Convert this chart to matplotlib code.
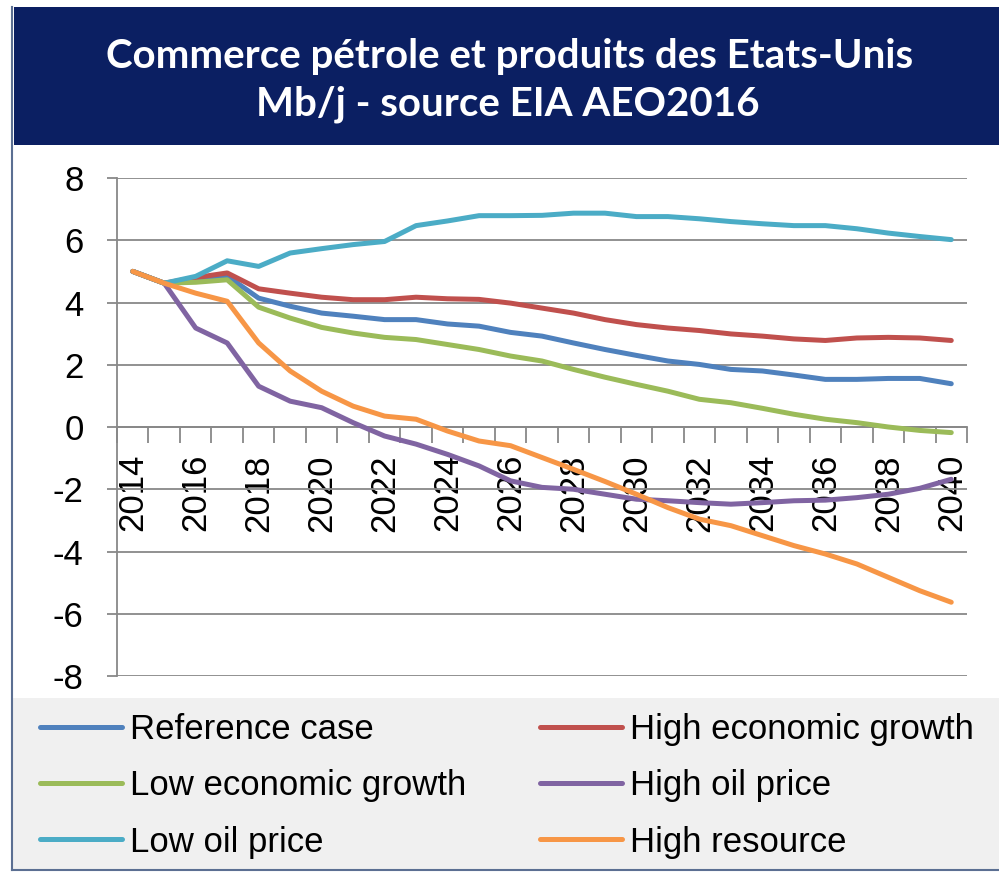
import matplotlib
matplotlib.use('Agg')
import matplotlib.pyplot as plt
from matplotlib.patches import Rectangle
from matplotlib.lines import Line2D
import numpy as np

plt.rcParams['axes.unicode_minus'] = False
plt.rcParams['font.family'] = ['Liberation Sans', 'DejaVu Sans']

years = list(range(2014, 2041))

reference_case = [5.0, 4.62, 4.72, 4.85, 4.14, 3.88, 3.66, 3.56, 3.45, 3.45, 3.31, 3.24, 3.04,
                  2.92, 2.70, 2.49, 2.30, 2.12, 2.01, 1.85, 1.80, 1.67, 1.53, 1.53, 1.56, 1.56, 1.39]
high_econ_growth = [5.0, 4.62, 4.80, 4.95, 4.44, 4.30, 4.17, 4.09, 4.09, 4.17, 4.12, 4.10, 3.98,
                    3.82, 3.66, 3.45, 3.29, 3.18, 3.10, 2.99, 2.92, 2.83, 2.78, 2.86, 2.88, 2.86, 2.78]
low_econ_growth = [5.0, 4.62, 4.65, 4.73, 3.85, 3.50, 3.20, 3.02, 2.88, 2.81, 2.65, 2.49, 2.28,
                   2.12, 1.85, 1.60, 1.37, 1.15, 0.89, 0.78, 0.60, 0.41, 0.25, 0.14, 0.00, -0.11, -0.18]
high_oil_price = [5.0, 4.62, 3.18, 2.70, 1.31, 0.83, 0.62, 0.14, -0.29, -0.55, -0.88, -1.25, -1.73,
                  -1.94, -2.00, -2.16, -2.32, -2.37, -2.43, -2.48, -2.43, -2.37, -2.35, -2.27, -2.16, -1.97, -1.68]
low_oil_price = [5.0, 4.62, 4.84, 5.34, 5.16, 5.59, 5.73, 5.86, 5.96, 6.47, 6.62, 6.79, 6.79,
                 6.80, 6.87, 6.87, 6.76, 6.76, 6.69, 6.60, 6.53, 6.47, 6.47, 6.37, 6.23, 6.12, 6.02]
high_resource = [5.0, 4.62, 4.30, 4.04, 2.70, 1.80, 1.15, 0.67, 0.35, 0.25, -0.13, -0.45, -0.60,
                 -0.98, -1.36, -1.75, -2.16, -2.59, -2.96, -3.17, -3.49, -3.81, -4.08, -4.40, -4.83, -5.26, -5.63]

series = [
    ('Reference case', reference_case, '#4F81BD'),
    ('High economic growth', high_econ_growth, '#C0504D'),
    ('Low economic growth', low_econ_growth, '#9BBB59'),
    ('High oil price', high_oil_price, '#8064A2'),
    ('Low oil price', low_oil_price, '#4BACC6'),
    ('High resource', high_resource, '#F79646'),
]

W, H = 999, 872
fig = plt.figure(figsize=(W / 100, H / 100), dpi=100)

def fx(px):
    return px / W

def fy(py):
    return 1 - py / H

# title band and legend band
fig.patches.append(Rectangle((fx(14), fy(145)), fx(985), 138 / H, transform=fig.transFigure,
                             facecolor='#0b1f62', edgecolor='none', zorder=0))
fig.patches.append(Rectangle((fx(13), fy(869)), fx(986), 171 / H, transform=fig.transFigure,
                             facecolor='#f0f0f0', edgecolor='none', zorder=0))
fig.lines.append(Line2D([fx(12), fx(12)], [fy(7), fy(870)], transform=fig.transFigure,
                        color='#5b6f92', lw=1.5))
fig.lines.append(Line2D([fx(12), fx(999)], [fy(869.5), fy(869.5)], transform=fig.transFigure,
                        color='#5b6f92', lw=1.5))

title_font = dict(ha='center', va='center', color='white', fontsize=29, fontweight='bold',
                  family=['Lato', 'DejaVu Sans'])
fig.text(fx(510), fy(56), 'Commerce pétrole et produits des Etats-Unis', **title_font)
fig.text(fx(508), fy(104), 'Mb/j - source EIA AEO2016', **title_font)

ax = fig.add_axes([fx(117), fy(676), fx(850), 498 / H])
x = np.arange(len(years))
handles = {}
for name, vals, color in series:
    ln, = ax.plot(x, vals, color=color, lw=3.6, label=name, solid_capstyle='round', zorder=3)
    handles[name] = ln

ax.set_xlim(-0.5, len(years) - 0.5)
ax.set_ylim(-8, 8)
ax.set_yticks(range(-8, 9, 2))
ax.set_xticks(x[::2])
ax.set_xticklabels([str(y) for y in years[::2]])
ax.set_xticks(np.arange(-0.5, len(years), 1), minor=True)

grid_col = '#888888'
for s in ['top', 'right']:
    ax.spines[s].set_visible(False)
ax.spines['bottom'].set_position(('data', 0))
ax.spines['bottom'].set_color(grid_col)
ax.spines['bottom'].set_linewidth(1.3)
ax.spines['left'].set_color(grid_col)
ax.spines['left'].set_linewidth(1.3)
ax.yaxis.grid(True, color=grid_col, lw=1.3)
ax.set_axisbelow(True)

ax.tick_params(axis='x', which='major', length=0, pad=19.5, labelsize=25, labelrotation=90)
ax.tick_params(axis='x', which='minor', length=11.5, width=1.3, color=grid_col, direction='out')
ax.tick_params(axis='y', length=7, width=1.3, color=grid_col, pad=17, labelsize=25)

order = ['Reference case', 'Low economic growth', 'Low oil price',
         'High economic growth', 'High oil price', 'High resource']
fig.legend([handles[n] for n in order], order, loc='upper left', bbox_to_anchor=(fx(40), fy(713)),
           ncol=2, frameon=False, fontsize=25, handlelength=2.36, handletextpad=0.23,
           columnspacing=2.12, labelspacing=0.67, borderpad=0, borderaxespad=0)

fig.savefig('out.png', dpi=100)
